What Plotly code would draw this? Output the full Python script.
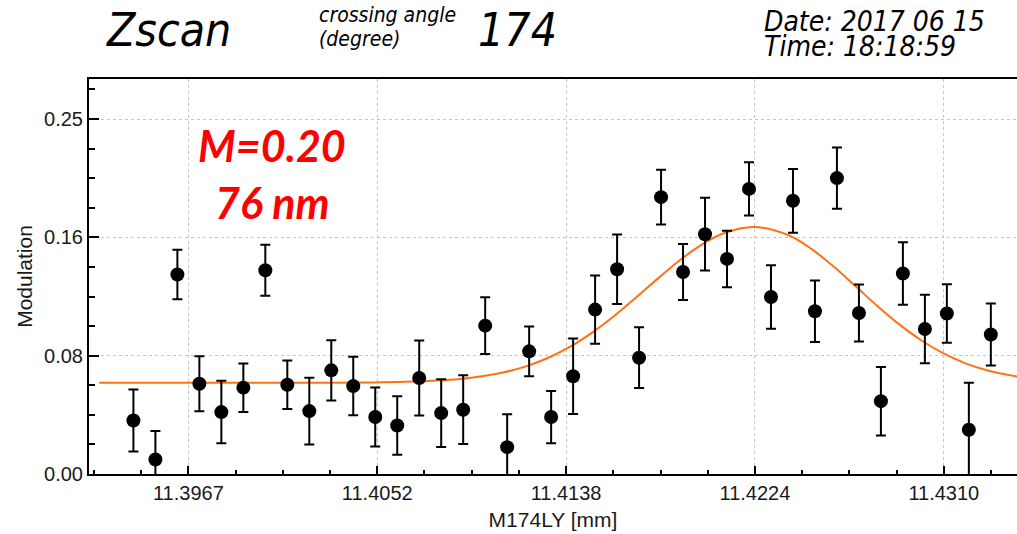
import plotly.graph_objects as go

# ---- data ----
x_pos = [11.39415, 11.39515, 11.39615, 11.39715, 11.39815, 11.39915, 11.40015, 11.40115,
         11.40215, 11.40315, 11.40415, 11.40515, 11.40615, 11.40715, 11.40815, 11.40915,
         11.41015, 11.41115, 11.41215, 11.41315, 11.41415, 11.41515, 11.41615, 11.41715,
         11.41815, 11.41915, 11.42015, 11.42115, 11.42215, 11.42315, 11.42415, 11.42515,
         11.42615, 11.42715, 11.42815, 11.42915, 11.43015, 11.43115, 11.43215, 11.43315]
modulation = [0.0377, 0.0102, 0.1405, 0.0636, 0.0436, 0.0608, 0.1435, 0.0629,
              0.0443, 0.0730, 0.0619, 0.0401, 0.0342, 0.0676, 0.0429, 0.0453,
              0.1045, 0.0189, 0.0864, 0.0401, 0.0688, 0.1158, 0.1442, 0.0819,
              0.1950, 0.1423, 0.1689, 0.1515, 0.2008, 0.1247, 0.1924, 0.1146,
              0.2084, 0.1134, 0.0513, 0.1412, 0.1021, 0.1130, 0.0312, 0.0982]
mod_err = [0.0218, 0.0200, 0.0174, 0.0194, 0.0220, 0.0171, 0.0179, 0.0171,
           0.0235, 0.0212, 0.0206, 0.0208, 0.0206, 0.0264, 0.0238, 0.0242,
           0.0199, 0.0231, 0.0175, 0.0184, 0.0266, 0.0240, 0.0245, 0.0214,
           0.0193, 0.0197, 0.0256, 0.0199, 0.0188, 0.0224, 0.0224, 0.0217,
           0.0216, 0.0200, 0.0241, 0.0220, 0.0241, 0.0206, 0.0331, 0.0218]

# fitted curve
fit_x = [11.3926, 11.3960, 11.4000, 11.4030, 11.4050, 11.4065, 11.4080, 11.4090,
         11.4100, 11.4110, 11.4120, 11.4130, 11.4140, 11.4150, 11.4160, 11.4170,
         11.4180, 11.4190, 11.4200, 11.4210, 11.4224, 11.4240, 11.4250, 11.4260,
         11.4270, 11.4280, 11.4290, 11.4300, 11.4310, 11.4320, 11.4330, 11.4345]
fit_y = [0.0643, 0.0643, 0.0643, 0.0643, 0.0645, 0.0649, 0.0658, 0.0669,
         0.0688, 0.0716, 0.0758, 0.0817, 0.0895, 0.0994, 0.1111, 0.1241,
         0.1376, 0.1505, 0.1616, 0.1696, 0.1740, 0.1678, 0.1584, 0.1461,
         0.1322, 0.1182, 0.1052, 0.0940, 0.0849, 0.0779, 0.0729, 0.0683]

x_tickvals = [11.39665, 11.40524, 11.41383, 11.42242, 11.43101]
x_ticktext = ["11.3967", "11.4052", "11.4138", "11.4224", "11.4310"]
y_tickvals = [0.0, 0.25 / 3, 0.5 / 3, 0.25]
y_ticktext = ["0.00", "0.08", "0.16", "0.25"]

# ---- layout geometry (pixels) ----
W, H = 1017, 534
L, R, T, B = 89, 0, 79, 60
PW, PH = W - L - R, H - T - B


def px(xp):
    return (xp - L) / PW


def py(yp):
    return (H - B - yp) / PH


fig = go.Figure()
fig.add_trace(go.Scatter(
    x=fit_x, y=fit_y, mode="lines",
    line=dict(color="#ff7115", width=2, shape="spline", smoothing=1.0),
    showlegend=False, hoverinfo="skip"))
fig.add_trace(go.Scatter(
    x=x_pos, y=modulation, mode="markers",
    marker=dict(color="black", size=14),
    error_y=dict(type="data", array=mod_err, visible=True, color="black",
                 thickness=2, width=5),
    showlegend=False))

tick_font = dict(family="Liberation Sans, Arial, sans-serif", size=20, color="#1a1a1a")
head = "DejaVu Sans Condensed, DejaVu Sans, sans-serif"


def head_note(text, xp, yp, size):
    return dict(text=text, x=px(xp), y=py(yp), xref="paper", yref="paper",
                xanchor="left", yanchor="middle", showarrow=False,
                font=dict(family=head, size=size, style="italic", color="black"))


def red_note(text, yp):
    return dict(text="<b><i>" + text + "</i></b>", x=px(272), y=py(yp),
                xref="paper", yref="paper", xanchor="center", yanchor="middle",
                showarrow=False,
                font=dict(family="Lato, Open Sans, sans-serif", size=43, color="#ff0000"))


fig.update_layout(
    width=W, height=H,
    margin=dict(l=L, r=R, t=T, b=B, autoexpand=False),
    paper_bgcolor="white", plot_bgcolor="white",
    xaxis=dict(
        range=[11.39213, 11.43434],
        tickmode="array", tickvals=x_tickvals, ticktext=x_ticktext,
        ticks="inside", ticklen=8, tickwidth=1.5, tickcolor="black",
        showline=True, linecolor="black", linewidth=2, mirror=True,
        showgrid=True, gridcolor="#c4c4c4", griddash="dot", gridwidth=1,
        zeroline=False, tickfont=tick_font, automargin=False,
        minor=dict(tickmode="linear", tick0=11.39665, dtick=0.0021475,
                   ticks="inside", ticklen=4, tickwidth=1.5, tickcolor="black",
                   showgrid=False),
        title=dict(text="M174LY [mm]", font=dict(family="Liberation Sans, Arial", size=21,
                                                  color="#1a1a1a"), standoff=9),
    ),
    yaxis=dict(
        range=[0, 0.2782],
        tickmode="array", tickvals=y_tickvals, ticktext=y_ticktext,
        ticks="inside", ticklen=10, tickwidth=1.5, tickcolor="black",
        showline=True, linecolor="black", linewidth=2,
        showgrid=True, gridcolor="#c4c4c4", griddash="dot", gridwidth=1,
        zeroline=False, tickfont=tick_font, automargin=False,
        minor=dict(tickmode="linear", tick0=0, dtick=0.25 / 12,
                   ticks="inside", ticklen=6, tickwidth=1.5, tickcolor="black",
                   showgrid=False),
        title=dict(text="Modulation", font=dict(family="Liberation Sans, Arial", size=21,
                                                 color="#1a1a1a"), standoff=6),
    ),
    annotations=[
        head_note("Zscan", 104, 30, 46),
        head_note("crossing angle", 317, 15, 21),
        head_note("(degree)", 317, 39.5, 21),
        head_note("174", 476, 30, 46),
        head_note("Date: 2017 06 15", 762, 21.5, 28),
        head_note("Time: 18:18:59", 762, 46, 28),
        red_note("M=0.20", 145.3),
        red_note("76 nm", 202),
    ],
)

fig.write_html("out.html")
